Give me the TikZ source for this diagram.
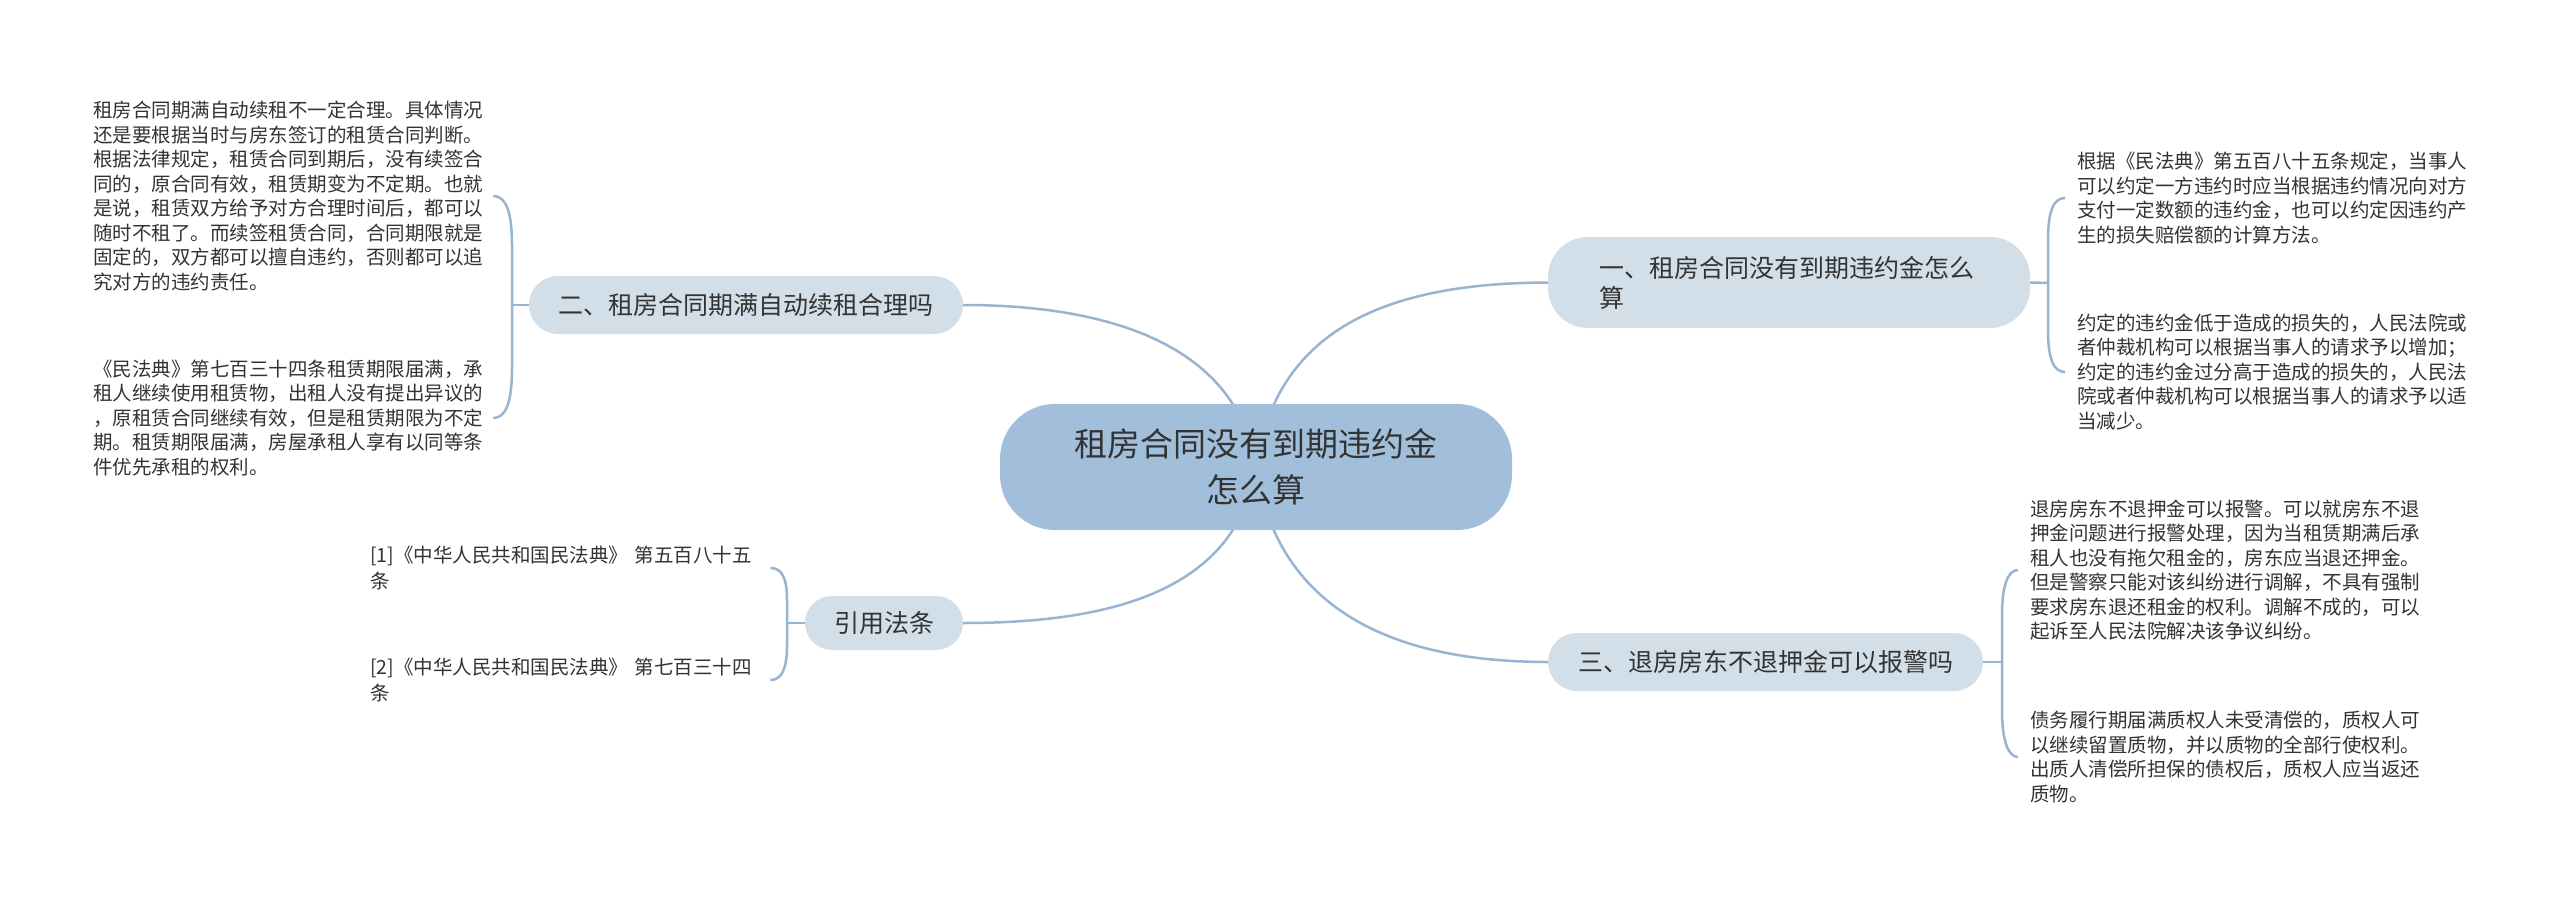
\documentclass[tikz,border=0pt]{standalone}
\usepackage{fontspec}
\setmainfont{Noto Sans CJK SC}
\usetikzlibrary{backgrounds}
\definecolor{rootfill}{RGB}{161,191,218}
\definecolor{subfill}{RGB}{211,223,232}
\definecolor{linec}{RGB}{152,180,208}
\definecolor{txt}{RGB}{51,51,51}
\begin{document}
\begin{tikzpicture}[x=1pt,y=-1pt,
  conn/.style={draw=linec,line width=2.5pt},
  rootbox/.style={fill=rootfill,rounded corners=55pt,minimum width=512pt,minimum height=126pt,align=center,text=txt,font=\fontsize{33pt}{46pt}\selectfont,inner sep=0pt},
  subbox/.style={fill=subfill,minimum height=58pt,rounded corners=29pt,text=txt,font=\fontsize{25pt}{30pt}\selectfont,inner sep=0pt},
  leaf/.style={align=left,text=txt,font=\fontsize{19.5pt}{24.5pt}\selectfont,inner sep=0pt,anchor=west,text width=392pt},
  cite/.style={leaf,font=\fontsize{19.5pt}{26pt}\selectfont,text width=382pt}
]
\useasboundingbox (0,0) rectangle (2560,899);

% central and branch nodes
\node[rootbox] (root) at (1256,467) {租房合同没有到期违约金\\怎么算};
\node[subbox,minimum width=482pt,minimum height=91pt,rounded corners=40pt,align=left,text width=380pt] (b1) at (1789,282.5) {一、租房合同没有到期违约金怎么\\算};
\node[subbox,minimum width=434pt] (b2) at (746,305) {二、租房合同期满自动续租合理吗};
\node[subbox,minimum width=435pt] (b3) at (1765.5,662) {三、退房房东不退押金可以报警吗};
\node[subbox,minimum width=158pt,minimum height=54pt,rounded corners=27pt] (b4) at (884,623) {引用法条};

% leaves
\node[leaf] (L1) at (93,196) {租房合同期满自动续租不一定合理。具体情况\\还是要根据当时与房东签订的租赁合同判断。\\根据法律规定，租赁合同到期后，没有续签合\\同的，原合同有效，租赁期变为不定期。也就\\是说，租赁双方给予对方合理时间后，都可以\\随时不租了。而续签租赁合同，合同期限就是\\固定的，双方都可以擅自违约，否则都可以追\\究对方的违约责任。};
\node[leaf] (L2) at (93,418) {《民法典》第七百三十四条租赁期限届满，承\\租人继续使用租赁物，出租人没有提出异议的\\，原租赁合同继续有效，但是租赁期限为不定\\期。租赁期限届满，房屋承租人享有以同等条\\件优先承租的权利。};
\node[leaf] (R1) at (2077,198) {根据《民法典》第五百八十五条规定，当事人\\可以约定一方违约时应当根据违约情况向对方\\支付一定数额的违约金，也可以约定因违约产\\生的损失赔偿额的计算方法。};
\node[leaf] (R2) at (2077,372) {约定的违约金低于造成的损失的，人民法院或\\者仲裁机构可以根据当事人的请求予以增加；\\约定的违约金过分高于造成的损失的，人民法\\院或者仲裁机构可以根据当事人的请求予以适\\当减少。};
\node[leaf] (R3) at (2030,570) {退房房东不退押金可以报警。可以就房东不退\\押金问题进行报警处理，因为当租赁期满后承\\租人也没有拖欠租金的，房东应当退还押金。\\但是警察只能对该纠纷进行调解，不具有强制\\要求房东退还租金的权利。调解不成的，可以\\起诉至人民法院解决该争议纠纷。};
\node[leaf] (R4) at (2030,757) {债务履行期届满质权人未受清偿的，质权人可\\以继续留置质物，并以质物的全部行使权利。\\出质人清偿所担保的债权后，质权人应当返还\\质物。};
\node[cite] (C1) at (370,568) {[1]《中华人民共和国民法典》 第五百八十五\\条};
\node[cite] (C2) at (370,680) {[2]《中华人民共和国民法典》 第七百三十四\\条};

% junctions
\coordinate (jL) at (512,305);
\coordinate (jR1) at (2048,283);
\coordinate (jR2) at (2002,662);
\coordinate (jC) at (787,623);

\begin{scope}[on background layer]
\fill[white] (0,0) rectangle (2560,899);
% root to branches
\draw[conn] (root.center) .. controls (1276,330) and (1385,283) .. (b1.west);
\draw[conn] (root.center) .. controls (1236,340) and (1100,305) .. (b2.east);
\draw[conn] (root.center) .. controls (1276,604) and (1385,662) .. (b3.west);
\draw[conn] (root.center) .. controls (1236,596) and (1100,623) .. (b4.east);
% left top bracket
\draw[conn] (b2.west) -- (jL);
\draw[conn] (jL) -- (512,245) .. controls (512,212) and (506,196) .. ([xshift=8pt]L1.east);
\draw[conn] (jL) -- (512,368) .. controls (512,402) and (506,418) .. ([xshift=8pt]L2.east);
% right top bracket
\draw[conn] (b1.east) -- (jR1);
\draw[conn] (jR1) -- (2048,240) .. controls (2048,210) and (2054,198) .. ([xshift=-12pt]R1.west);
\draw[conn] (jR1) -- (2048,330) .. controls (2048,360) and (2054,372) .. ([xshift=-12pt]R2.west);
% right bottom bracket
\draw[conn] (b3.east) -- (jR2);
\draw[conn] (jR2) -- (2002,615) .. controls (2002,585) and (2008,570) .. ([xshift=-12pt]R3.west);
\draw[conn] (jR2) -- (2002,710) .. controls (2002,740) and (2008,757) .. ([xshift=-12pt]R4.west);
% citation bracket
\draw[conn] (b4.west) -- (jC);
\draw[conn] (jC) -- (787,600) .. controls (787,578) and (782,568) .. ([xshift=18pt]C1.east);
\draw[conn] (jC) -- (787,646) .. controls (787,668) and (782,680) .. ([xshift=18pt]C2.east);
\end{scope}
\end{tikzpicture}
\end{document}
